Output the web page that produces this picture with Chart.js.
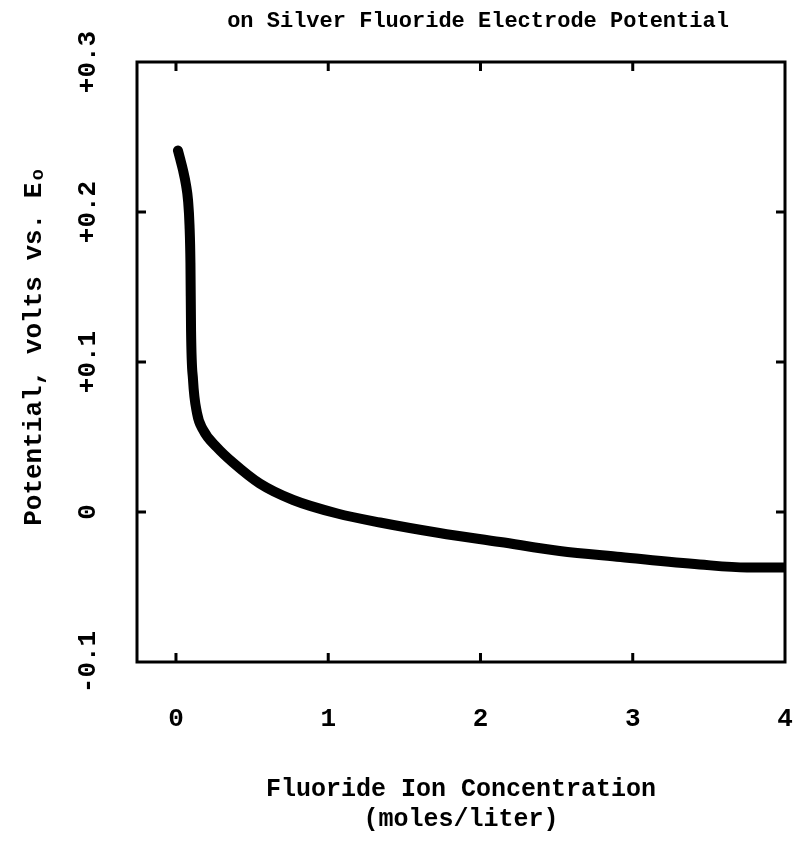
<!DOCTYPE html>
<html>
<head>
<meta charset="utf-8">
<script src="https://cdn.jsdelivr.net/npm/chart.js@4/dist/chart.umd.min.js"></script>
<style>
  html, body { margin: 0; padding: 0; background: #fff; }
  #wrap { width: 799px; height: 858px; }
</style>
</head>
<body>
<div id="wrap"><canvas id="c" width="799" height="858"></canvas></div>
<script>
// ---- data ----
const concentration = [0.013, 0.026, 0.046, 0.066, 0.079, 0.089, 0.095, 0.099, 0.112, 0.138, 0.177, 0.27, 0.374, 0.55, 0.77, 1.06, 1.34, 1.73, 2.13, 2.52, 2.92, 3.44, 3.75, 4.0];
const potential     = [0.241, 0.236, 0.228, 0.218, 0.208, 0.191, 0.166, 0.121, 0.088, 0.066, 0.055, 0.043, 0.033, 0.019, 0.008, -0.001, -0.007, -0.014, -0.020, -0.026, -0.030, -0.035, -0.037, -0.037];
const xTickValues = [0, 1, 2, 3, 4];
const xTickLabels = ['0', '1', '2', '3', '4'];
const yTickValues = [-0.1, 0, 0.1, 0.2, 0.3];
const yTickLabels = ['-0.1', '0', '+0.1', '+0.2', '+0.3'];
const titleText = 'on Silver Fluoride Electrode Potential';
const xTitle = ['Fluoride Ion Concentration', '(moles/liter)'];
const yTitle = '  Potential, volts vs. E\u2092';

const FONT = "'Liberation Mono', 'DejaVu Sans Mono', monospace";

const framePlugin = {
  id: 'frame',
  afterDraw(chart) {
    const ctx = chart.ctx;
    const a = chart.chartArea;
    const xs = chart.scales.x, ys = chart.scales.y;
    ctx.save();
    ctx.strokeStyle = '#000';
    ctx.lineWidth = 3;
    ctx.strokeRect(a.left, a.top, a.right - a.left, a.bottom - a.top);
    const tl = 9;
    ctx.beginPath();
    xTickValues.forEach(v => {
      const px = xs.getPixelForValue(v);
      if (px > a.left + 2 && px < a.right - 2) {
        ctx.moveTo(px, a.bottom); ctx.lineTo(px, a.bottom - tl);
        ctx.moveTo(px, a.top); ctx.lineTo(px, a.top + tl);
      }
    });
    yTickValues.forEach(v => {
      const py = ys.getPixelForValue(v);
      if (py > a.top + 2 && py < a.bottom - 2) {
        ctx.moveTo(a.left, py); ctx.lineTo(a.left + tl, py);
        ctx.moveTo(a.right, py); ctx.lineTo(a.right - tl, py);
      }
    });
    ctx.stroke();
    ctx.fillStyle = '#000';
    ctx.font = 'bold 22px ' + FONT;
    ctx.textAlign = 'center';
    ctx.textBaseline = 'middle';
    ctx.fillText(titleText, 478, 21);
    ctx.restore();
  }
};

new Chart(document.getElementById('c'), {
  type: 'line',
  data: {
    datasets: [{
      data: concentration.map((x, i) => ({ x: x, y: potential[i] })),
      borderColor: '#000',
      borderWidth: 10,
      borderCapStyle: 'round',
      borderJoinStyle: 'round',
      pointRadius: 0,
      fill: false,
      cubicInterpolationMode: 'monotone'
    }]
  },
  options: {
    responsive: false,
    animation: false,
    layout: { padding: { top: 62, right: 14, left: 0, bottom: 0 } },
    plugins: { legend: { display: false }, tooltip: { enabled: false }, title: { display: false } },
    scales: {
      x: {
        type: 'linear',
        min: -0.256,
        max: 4,
        afterBuildTicks: s => { s.ticks = xTickValues.map(v => ({ value: v })); },
        afterFit: s => { s.height = 196; s.paddingLeft = 0; s.paddingRight = 0; },
        grid: { display: false, drawTicks: false },
        border: { display: false },
        ticks: {
          color: '#000',
          font: { family: FONT, size: 26, weight: 'bold' },
          padding: 42,
          maxRotation: 0,
          autoSkip: false,
          callback: v => { const i = xTickValues.indexOf(v); return i >= 0 ? xTickLabels[i] : ''; }
        },
        title: {
          display: true,
          text: xTitle,
          color: '#000',
          font: { family: FONT, size: 25, lineHeight: 1.2, weight: 'bold' },
          padding: { top: 0, bottom: 23 }
        }
      },
      y: {
        type: 'linear',
        min: -0.1,
        max: 0.3,
        afterBuildTicks: s => { s.ticks = yTickValues.map(v => ({ value: v })); },
        afterFit: s => { s.width = 137; s.paddingTop = 0; s.paddingBottom = 0; },
        grid: { display: false, drawTicks: false },
        border: { display: false },
        ticks: {
          color: '#000',
          font: { family: FONT, size: 26, weight: 'bold' },
          padding: 17,
          minRotation: 90,
          maxRotation: 90,
          crossAlign: 'center',
          autoSkip: false,
          callback: v => { const i = yTickValues.findIndex(t => Math.abs(t - v) < 1e-9); return i >= 0 ? yTickLabels[i] : ''; }
        },
        title: {
          display: true,
          text: yTitle,
          color: '#000',
          font: { family: FONT, size: 26, lineHeight: 1.2, weight: 'bold' },
          padding: { top: 19, bottom: 0 }
        }
      }
    }
  },
  plugins: [framePlugin]
});
</script>
</body>
</html>
